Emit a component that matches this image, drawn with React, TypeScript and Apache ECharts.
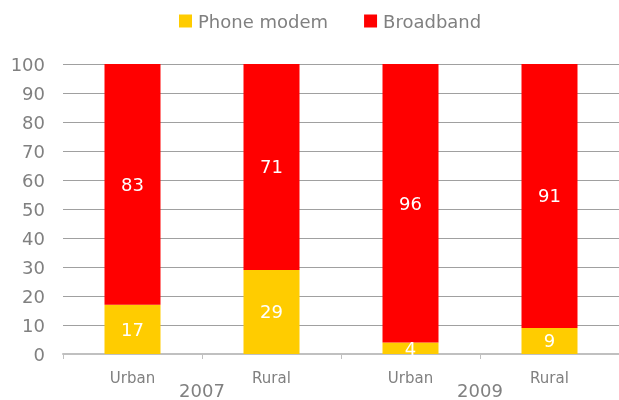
import React, { useEffect, useRef } from "react";
import * as echarts from "echarts";

const categories = ["Urban", "Rural", "Urban", "Rural"];
const years = ["2007", "2009"];
const phoneModem = [17, 29, 4, 9];
const broadband = [83, 71, 96, 91];

const FONT = "'DejaVu Sans', Verdana, sans-serif";
const GRAY = "#808080";

export default function App() {
  const ref = useRef<HTMLDivElement>(null);
  useEffect(() => {
    if (!ref.current) return;
    const chart = echarts.init(ref.current, undefined, { renderer: "svg" });
    chart.setOption({
      animation: false,
      textStyle: { fontFamily: FONT },
      legend: {
        top: 7,
        left: 174,
        itemWidth: 13,
        itemHeight: 13,
        itemGap: 36,
        icon: "rect",
        textStyle: { fontFamily: FONT, fontSize: 18, color: GRAY, padding: [0, 0, 0, 1] },
        data: ["Phone modem", "Broadband"],
      },
      grid: { left: 63, right: 0, top: 64, bottom: 46, containLabel: false },
      xAxis: [
        {
          type: "category",
          data: categories,
          axisLine: { show: true, lineStyle: { color: "#c0c0c0", width: 2 } },
          axisTick: { show: true, length: 5, lineStyle: { color: "#c0c0c0", width: 1 } },
          axisLabel: { fontFamily: FONT, fontSize: 15, color: GRAY, margin: 16 },
        },
        {
          type: "category",
          data: years,
          position: "bottom",
          axisLine: { show: false },
          axisTick: { show: false },
          axisLabel: { fontFamily: FONT, fontSize: 18, color: GRAY, margin: 27 },
        },
      ],
      yAxis: {
        type: "value",
        min: 0,
        max: 100,
        interval: 10,
        axisLine: { show: false },
        axisTick: { show: false },
        axisLabel: { fontFamily: FONT, fontSize: 18, color: GRAY, margin: 18 },
        splitLine: { show: true, lineStyle: { color: "#a0a0a0", width: 1 } },
      },
      series: [
        {
          name: "Phone modem",
          type: "bar",
          stack: "total",
          barWidth: 56,
          data: phoneModem,
          itemStyle: { color: "#FFCC00" },
          label: { show: true, position: "inside", color: "#ffffff", fontFamily: FONT, fontSize: 18 },
        },
        {
          name: "Broadband",
          type: "bar",
          stack: "total",
          barWidth: 56,
          data: broadband,
          itemStyle: { color: "#FF0000" },
          label: { show: true, position: "inside", color: "#ffffff", fontFamily: FONT, fontSize: 18 },
        },
      ],
    });
    return () => chart.dispose();
  }, []);
  return <div ref={ref} style={{ width: 619, height: 400, position: "fixed", left: 0, top: 0 }} />;
}
